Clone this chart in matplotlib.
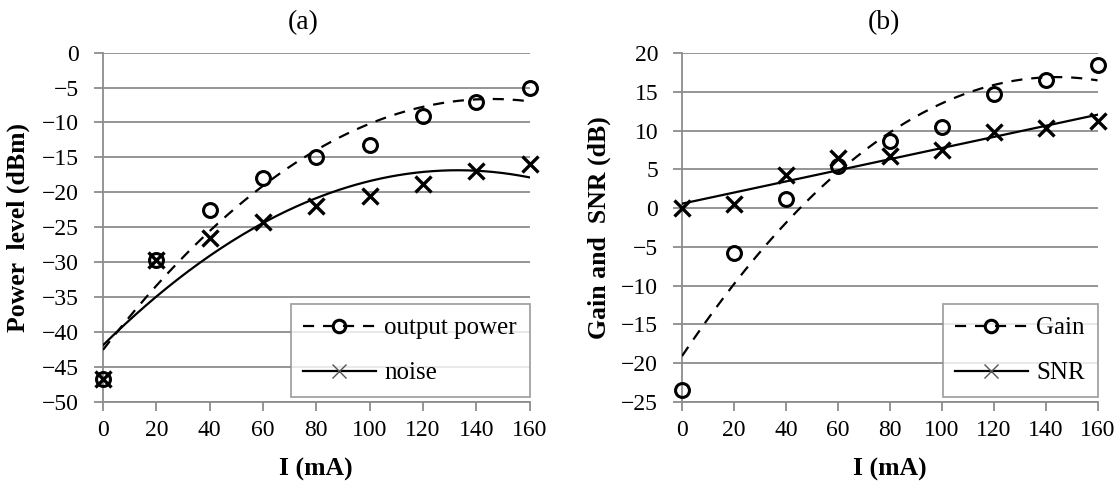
import matplotlib
matplotlib.use('Agg')
import matplotlib.pyplot as plt
from matplotlib.lines import Line2D
import numpy as np

# Data
current = [0, 20, 40, 60, 80, 100, 120, 140, 160]          # I (mA)
output_power = [-46.8, -29.7, -22.5, -18.0, -15.0, -13.2, -9.0, -7.0, -5.0]
noise = [-46.8, -29.7, -26.5, -24.2, -22.0, -20.5, -18.8, -17.0, -16.0]
gain = [-23.5, -5.8, 1.2, 5.5, 8.7, 10.5, 14.8, 16.5, 18.5]
snr = [0.0, 0.5, 4.3, 6.5, 6.8, 7.5, 9.8, 10.3, 11.2]
xticks = [0, 20, 40, 60, 80, 100, 120, 140, 160]

plt.rcParams['font.family'] = ['Liberation Serif', 'DejaVu Serif']
plt.rcParams['font.size'] = 17

GRID = '#8c8c8c'


def trend(ax, y, deg, dashed):
	# Excel-style polynomial trendline
	coef = np.polyfit(current, y, deg)
	xs = np.linspace(current[0], current[-1], 200)
	line, = ax.plot(xs, np.polyval(coef, xs), color='black', lw=1.6, zorder=3)
	if dashed:
		line.set_dashes((5, 4))
	return line


def style(ax, ylim, ystep):
	ax.set_xlim(0, 160)
	ax.set_ylim(*ylim)
	ax.set_xticks(xticks)
	ax.set_yticks(np.arange(ylim[0], ylim[1] + 1, ystep))
	ax.yaxis.grid(True, color=GRID, lw=1.3)
	ax.set_axisbelow(True)
	for s in ['top', 'right']:
		ax.spines[s].set_visible(False)
	for s in ['left', 'bottom']:
		ax.spines[s].set_color(GRID)
		ax.spines[s].set_linewidth(1.3)
	ax.tick_params(axis='both', direction='out', length=6.2, width=1.3, color=GRID,
				   labelsize=17)
	ax.tick_params(axis='x', pad=7)
	ax.tick_params(axis='y', pad=11)
	ax.set_xlabel('I (mA)', fontweight='bold', fontsize=18.5, labelpad=12)


def draw(ax, y1, y2, deg2, labels):
	trend(ax, y1, 2, True)
	trend(ax, y2, deg2, False)
	ax.plot(current, y1, ls='none', marker='o', ms=10, mfc='none', mec='black',
			mew=2.2, zorder=4, clip_on=False)
	ax.plot(current, y2, ls='none', marker='x', ms=11, mec='black',
			mew=2.4, zorder=4, clip_on=False)
	h1 = Line2D([], [], color='black', lw=1.6, dashes=(5, 4), marker='o', ms=9,
				mfc='none', mec='black', mew=2.2)
	h2 = Line2D([], [], color='black', lw=1.6, marker='x', ms=10, mec='#555555',
				mew=1.0)
	leg = ax.legend([h1, h2], labels, loc='lower right', bbox_to_anchor=(1.0, 0.014),
					fontsize=18, frameon=True, fancybox=False, handlelength=2.9,
					handletextpad=0.35, borderpad=0.5, labelspacing=0.9,
					borderaxespad=0)
	leg.get_frame().set_edgecolor(GRID)
	leg.get_frame().set_linewidth(1.3)


fig = plt.figure(figsize=(11.19, 4.86), dpi=100)
axA = fig.add_axes([0.0920, 0.1735, 0.3812, 0.7181])
axB = fig.add_axes([0.6095, 0.1735, 0.3713, 0.7168])

draw(axA, output_power, noise, 2, ['output power', 'noise'])
style(axA, (-50, 0), 5)
axA.set_ylabel('Power  level (dBm)', fontweight='bold', fontsize=18.5, labelpad=9)

draw(axB, gain, snr, 1, ['Gain', 'SNR'])
style(axB, (-25, 20), 5)
axB.set_ylabel('Gain and  SNR (dB)', fontweight='bold', fontsize=18.5, labelpad=7)

fig.text(303 / 1119, 1 - 23 / 486, '(a)', ha='center', va='center', fontsize=20)
fig.text(884 / 1119, 1 - 23 / 486, '(b)', ha='center', va='center', fontsize=20)

fig.savefig('out.png', dpi=100)
